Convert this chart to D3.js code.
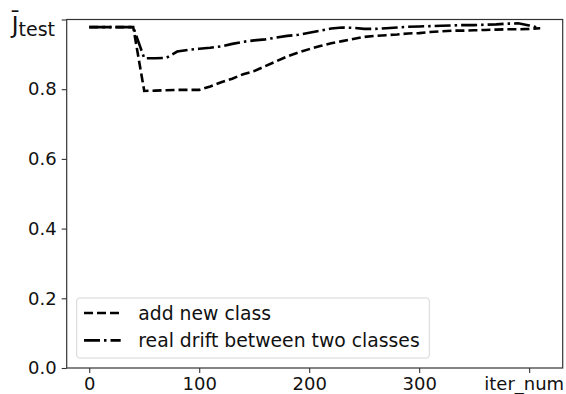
<!DOCTYPE html>
<html>
<head>
<meta charset="utf-8">
<script src="https://cdn.jsdelivr.net/npm/d3@7"></script>
<style>
    body { margin: 0; background: #fff; }
    svg { display: block; font-family: 'DejaVu Sans', sans-serif; }
</style>
</head>
<body>
<svg id="grafico" width="566" height="394"></svg>
<script>
//iterazioni sull'asse x
var iterNum = [0, 10, 20, 30, 40, 50, 60, 70, 80, 90, 100, 110, 120, 130, 140, 150, 160, 170, 180, 190, 200,
    210, 220, 230, 240, 250, 260, 270, 280, 290, 300, 310, 320, 330, 340, 350, 360, 370, 380, 390, 400, 410];

//serie "add new class"
var addNewClass = [0.978, 0.978, 0.978, 0.978, 0.978, 0.795, 0.796, 0.797, 0.798, 0.798, 0.798, 0.808, 0.820, 0.830,
    0.843, 0.852, 0.866, 0.880, 0.894, 0.905, 0.915, 0.924, 0.932, 0.938, 0.944, 0.950, 0.953, 0.955, 0.957, 0.960,
    0.961, 0.964, 0.966, 0.968, 0.968, 0.969, 0.970, 0.971, 0.972, 0.972, 0.973, 0.975];

//serie "real drift between two classes"
var realDrift = [0.978, 0.978, 0.978, 0.978, 0.978, 0.889, 0.889, 0.890, 0.908, 0.913, 0.916, 0.919, 0.923, 0.930,
    0.936, 0.940, 0.943, 0.948, 0.953, 0.956, 0.962, 0.968, 0.974, 0.977, 0.976, 0.973, 0.973, 0.975, 0.977, 0.979,
    0.980, 0.981, 0.982, 0.983, 0.984, 0.984, 0.985, 0.986, 0.988, 0.989, 0.983, 0.975];

//tick degli assi
var xTicks = [0, 100, 200, 300, 400];
var xTickLabels = ['0', '100', '200', '300', 'iter_num'];
var yTicks = [0.0, 0.2, 0.4, 0.6, 0.8, 1.0];
var yTickLabels = ['0.0', '0.2', '0.4', '0.6', '0.8', ''];

var serie = [
    { nome: 'add new class', valori: addNewClass, tratto: '9,4' },
    { nome: 'real drift between two classes', valori: realDrift, tratto: '16,4,2.5,4' }
];

var svg = d3.select('#grafico');

//area del grafico
var margine = { sinistra: 66.7, destra: 562.7, alto: 19.5, basso: 368 };

//margine del 5% come matplotlib
var span = d3.max(iterNum) - d3.min(iterNum);
var x = d3.scaleLinear()
    .domain([d3.min(iterNum) - span * 0.05, d3.max(iterNum) + span * 0.05])
    .range([margine.sinistra, margine.destra]);

var y = d3.scaleLinear()
    .domain([0, 1])
    .range([margine.basso, margine.alto]);

//asse x
var asseX = svg.append('g')
    .attr('transform', 'translate(0,' + margine.basso + ')')
    .call(d3.axisBottom(x)
        .tickValues(xTicks)
        .tickFormat(function(d, i) { return xTickLabels[i]; })
        .tickSize(5)
        .tickPadding(4));

//asse y
var asseY = svg.append('g')
    .attr('transform', 'translate(' + margine.sinistra + ',0)')
    .call(d3.axisLeft(y)
        .tickValues(yTicks)
        .tickFormat(function(d, i) { return yTickLabels[i]; })
        .tickSize(5)
        .tickPadding(5));

[asseX, asseY].forEach(function(a) {
    a.select('.domain').remove();
    a.selectAll('.tick line').attr('stroke', '#333').attr('stroke-width', 1.1);
    a.selectAll('.tick text')
        .attr('fill', '#111')
        .style('font-size', '18px')
        .style('font-family', "'DejaVu Sans', sans-serif");
});

//etichetta iter_num: allineata a destra per restare nel riquadro
asseX.selectAll('.tick')
    .filter(function(d) { return d === 400; })
    .select('text')
    .attr('text-anchor', 'end')
    .attr('x', 34.5);

//etichetta J test al posto di 1.0
var etichetta = asseY.selectAll('.tick')
    .filter(function(d) { return d === 1; })
    .select('text')
    .attr('dy', null)
    .attr('y', 12.5)
    .attr('x', -11.7);
etichetta.append('tspan')
    .style('font-size', '23px')
    .text('J\u0304');
etichetta.append('tspan')
    .style('font-size', '19px')
    .attr('dy', 3)
    .text('test');

//cornice del grafico
svg.append('rect')
    .attr('x', margine.sinistra)
    .attr('y', margine.alto)
    .attr('width', margine.destra - margine.sinistra)
    .attr('height', margine.basso - margine.alto)
    .attr('fill', 'none')
    .attr('stroke', '#333')
    .attr('stroke-width', 1.2);

//linee
var linea = d3.line()
    .x(function(d, i) { return x(iterNum[i]); })
    .y(function(d) { return y(d); });

svg.selectAll('.serie')
    .data(serie)
    .enter().append('path')
    .attr('class', 'serie')
    .attr('d', function(d) { return linea(d.valori); })
    .attr('fill', 'none')
    .attr('stroke', '#000')
    .attr('stroke-width', 2.6)
    .attr('stroke-dasharray', function(d) { return d.tratto; });

//legenda in basso a sinistra
var legenda = svg.append('g')
    .attr('transform', 'translate(' + (margine.sinistra + 10) + ',' + (margine.basso - 70) + ')');

legenda.append('rect')
    .attr('width', 352.6)
    .attr('height', 60)
    .attr('rx', 3)
    .attr('fill', '#fff')
    .attr('fill-opacity', 0.8)
    .attr('stroke', '#d6d6d6')
    .attr('stroke-width', 1);

var voci = legenda.selectAll('.voce')
    .data(serie)
    .enter().append('g')
    .attr('class', 'voce')
    .attr('transform', function(d, i) { return 'translate(0,' + (15 + i * 27.4) + ')'; });

voci.append('line')
    .attr('x1', 7.3)
    .attr('x2', 44)
    .attr('stroke', '#000')
    .attr('stroke-width', 2.6)
    .attr('stroke-dasharray', function(d) { return d.tratto; });

voci.append('text')
    .attr('x', 61.6)
    .attr('dy', '0.35em')
    .style('font-size', '18.8px')
    .attr('fill', '#111')
    .text(function(d) { return d.nome; });
</script>
</body>
</html>
